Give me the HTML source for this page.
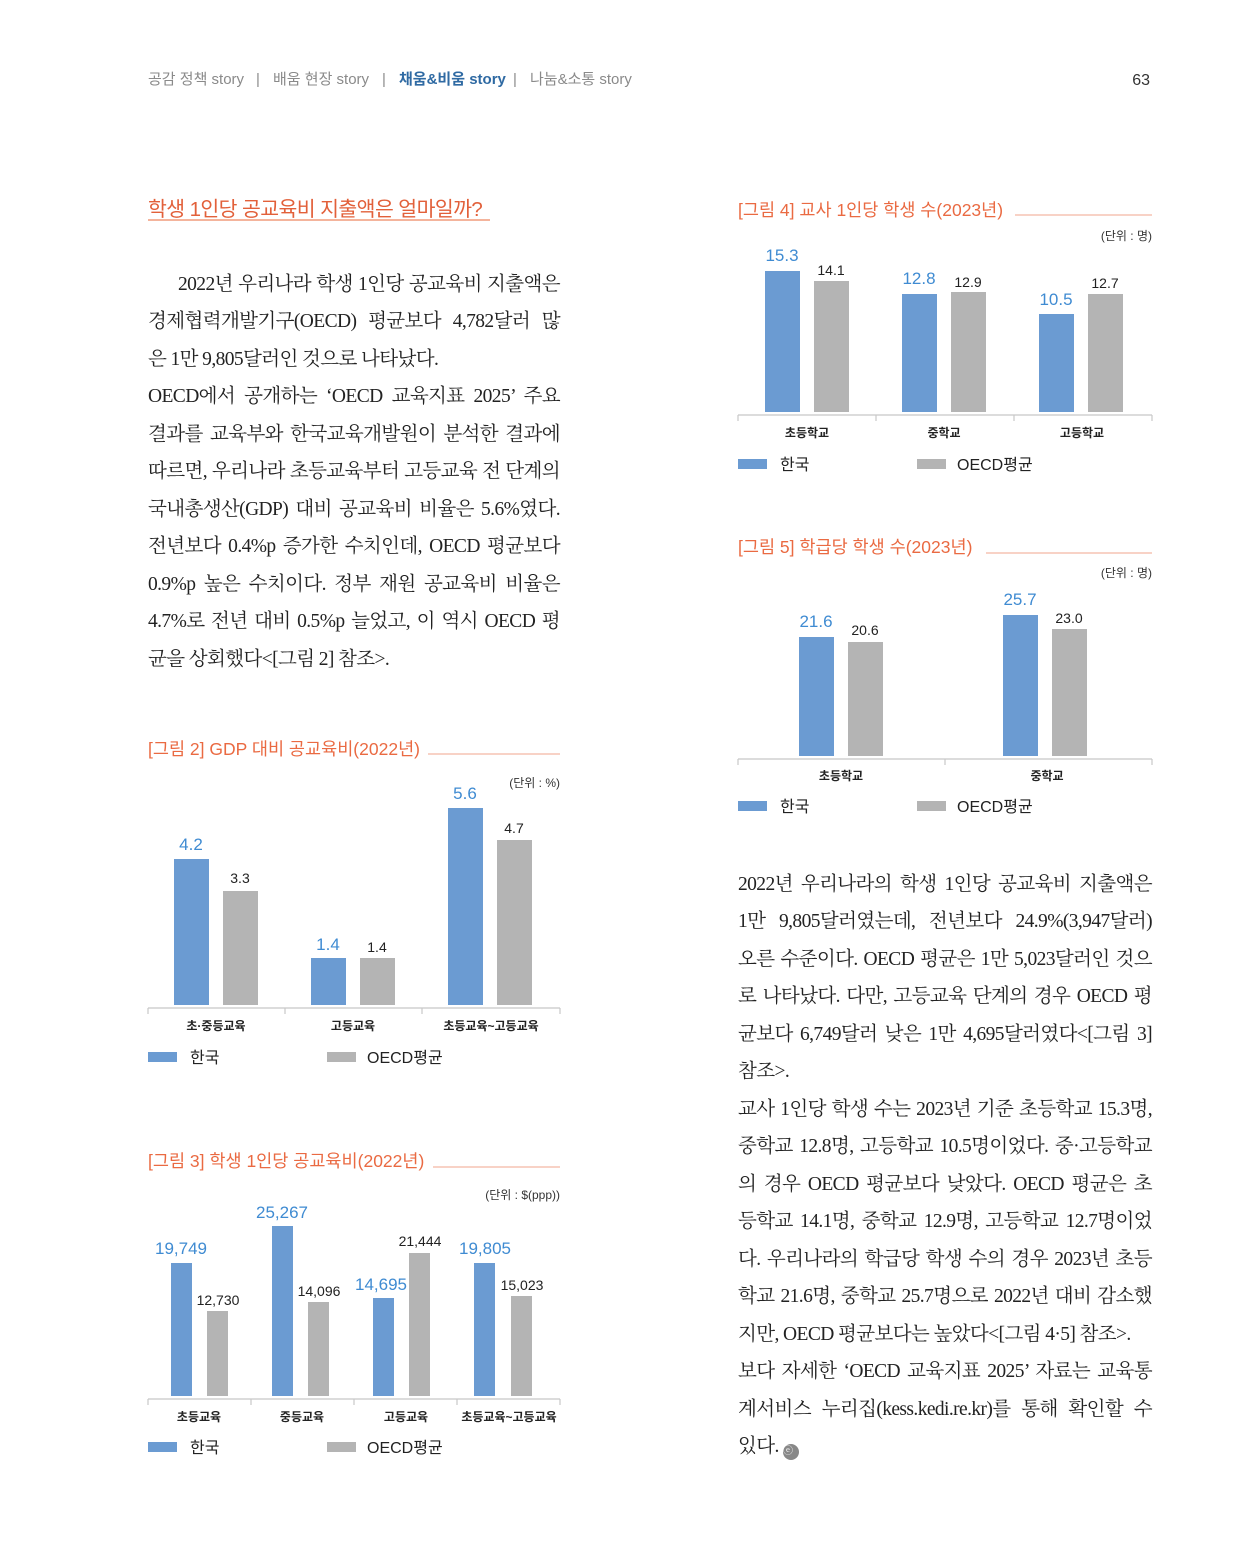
<!DOCTYPE html>
<html><head><meta charset="utf-8">
<style>
html,body{margin:0;padding:0;background:#fff;}
body{width:1240px;height:1565px;position:relative;overflow:hidden;font-family:"Liberation Sans","Noto Sans CJK KR",sans-serif;}
.l{position:absolute;height:28px;line-height:28px;font-family:"Liberation Serif","Noto Serif CJK KR","Noto Serif CJK SC",serif;font-size:19.5px;color:#222;white-space:nowrap;text-align:justify;text-align-last:justify;letter-spacing:-0.6px;}
.n{text-align:left;text-align-last:left;}
svg{position:absolute;left:0;top:0;}
</style></head><body>
<div class="l" style="left:178px;width:382px;top:271px">2022년 우리나라 학생 1인당 공교육비 지출액은</div>
<div class="l" style="left:148px;width:412px;top:308px">경제협력개발기구(OECD) 평균보다 4,782달러 많</div>
<div class="l n" style="left:148px;width:412px;top:346px">은 1만 9,805달러인 것으로 나타났다.</div>
<div class="l" style="left:148px;width:412px;top:383px">OECD에서 공개하는 ‘OECD 교육지표 2025’ 주요</div>
<div class="l" style="left:148px;width:412px;top:421px">결과를 교육부와 한국교육개발원이 분석한 결과에</div>
<div class="l" style="left:148px;width:412px;top:458px">따르면, 우리나라 초등교육부터 고등교육 전 단계의</div>
<div class="l" style="left:148px;width:412px;top:496px">국내총생산(GDP) 대비 공교육비 비율은 5.6%였다.</div>
<div class="l" style="left:148px;width:412px;top:533px">전년보다 0.4%p 증가한 수치인데, OECD 평균보다</div>
<div class="l" style="left:148px;width:412px;top:571px">0.9%p 높은 수치이다. 정부 재원 공교육비 비율은</div>
<div class="l" style="left:148px;width:412px;top:608px">4.7%로 전년 대비 0.5%p 늘었고, 이 역시 OECD 평</div>
<div class="l n" style="left:148px;width:412px;top:646px">균을 상회했다&lt;[그림 2] 참조&gt;.</div>

<div class="l" style="left:738px;width:414px;top:871px">2022년 우리나라의 학생 1인당 공교육비 지출액은</div>
<div class="l" style="left:738px;width:414px;top:908px">1만 9,805달러였는데, 전년보다 24.9%(3,947달러)</div>
<div class="l" style="left:738px;width:414px;top:946px">오른 수준이다. OECD 평균은 1만 5,023달러인 것으</div>
<div class="l" style="left:738px;width:414px;top:983px">로 나타났다. 다만, 고등교육 단계의 경우 OECD 평</div>
<div class="l" style="left:738px;width:414px;top:1021px">균보다 6,749달러 낮은 1만 4,695달러였다&lt;[그림 3]</div>
<div class="l n" style="left:738px;width:414px;top:1058px">참조&gt;.</div>
<div class="l" style="left:738px;width:414px;top:1096px">교사 1인당 학생 수는 2023년 기준 초등학교 15.3명,</div>
<div class="l" style="left:738px;width:414px;top:1133px">중학교 12.8명, 고등학교 10.5명이었다. 중·고등학교</div>
<div class="l" style="left:738px;width:414px;top:1171px">의 경우 OECD 평균보다 낮았다. OECD 평균은 초</div>
<div class="l" style="left:738px;width:414px;top:1208px">등학교 14.1명, 중학교 12.9명, 고등학교 12.7명이었</div>
<div class="l" style="left:738px;width:414px;top:1246px">다. 우리나라의 학급당 학생 수의 경우 2023년 초등</div>
<div class="l" style="left:738px;width:414px;top:1283px">학교 21.6명, 중학교 25.7명으로 2022년 대비 감소했</div>
<div class="l n" style="left:738px;width:414px;top:1321px">지만, OECD 평균보다는 높았다&lt;[그림 4·5] 참조&gt;.</div>
<div class="l" style="left:738px;width:414px;top:1358px">보다 자세한 ‘OECD 교육지표 2025’ 자료는 교육통</div>
<div class="l" style="left:738px;width:414px;top:1396px">계서비스 누리집(kess.kedi.re.kr)를 통해 확인할 수</div>
<div class="l n" style="left:738px;width:414px;top:1433px">있다. <span style="display:inline-block;width:16px;height:16px;border-radius:8px;background:#888;color:#fff;font-size:10px;line-height:16px;text-align:center;vertical-align:-2px">ⓔ</span></div>

<svg width="1240" height="1565" viewBox="0 0 1240 1565" font-family="Liberation Sans, Noto Sans CJK KR, sans-serif">
<!-- header -->
<g font-size="15" fill="#8a8a8a">
<text x="148" y="84">공감 정책 story</text>
<text x="256" y="84">|</text>
<text x="273" y="84">배움 현장 story</text>
<text x="382" y="84">|</text>
<text x="399" y="84" fill="#2f6aa3" font-weight="bold">채움&amp;비움 story</text>
<text x="513" y="84">|</text>
<text x="530" y="84">나눔&amp;소통 story</text>
</g>
<text x="1150" y="85" font-size="16" fill="#333" text-anchor="end">63</text>
<!-- title -->
<text x="148" y="216" font-size="20.5" fill="#e2603a" letter-spacing="-0.6">학생 1인당 공교육비 지출액은 얼마일까?</text>
<line x1="148" y1="220" x2="490" y2="220" stroke="#f4b49c" stroke-width="2"/>

<g font-size="17.5" fill="#ea6a42">
<text x="148" y="755">[그림  2] GDP 대비 공교육비(2022년)</text>
<text x="148" y="1167">[그림  3] 학생 1인당 공교육비(2022년)</text>
<text x="738" y="216">[그림  4] 교사 1인당 학생 수(2023년)</text>
<text x="738" y="553">[그림  5] 학급당 학생 수(2023년)</text>
</g>
<g stroke="#f0a48c" stroke-width="1">
<line x1="428" y1="754" x2="560" y2="754"/>
<line x1="433" y1="1167" x2="560" y2="1167"/>
<line x1="1015" y1="215" x2="1152" y2="215"/>
<line x1="986" y1="553" x2="1152" y2="553"/>
</g>
<g font-size="12" fill="#333" text-anchor="end">
<text x="560" y="787">(단위 : %)</text>
<text x="560" y="1199">(단위 : $(ppp))</text>
<text x="1152" y="240">(단위 : 명)</text>
<text x="1152" y="577">(단위 : 명)</text>
</g>

<!-- axes -->
<g stroke="#c8c8c8" stroke-width="1.2" fill="none">
<path d="M148 1008H560M148 1008v6M285 1008v6M422 1008v6M560 1008v6"/>
<path d="M148 1399H560M148 1399v6M251 1399v6M354 1399v6M457 1399v6M560 1399v6"/>
<path d="M738 415H1152M738 415v6M876 415v6M1014 415v6M1152 415v6"/>
<path d="M738 759H1152M738 759v6M945 759v6M1152 759v6"/>
</g>

<!-- bars -->
<g fill="#6b9bd2">
<rect x="174" y="859" width="35" height="146"/>
<rect x="311" y="958" width="35" height="47"/>
<rect x="448" y="808" width="35" height="197"/>
<rect x="171" y="1263" width="21" height="133"/>
<rect x="272" y="1226" width="21" height="170"/>
<rect x="373" y="1298" width="21" height="98"/>
<rect x="474" y="1263" width="21" height="133"/>
<rect x="765" y="271" width="35" height="141"/>
<rect x="902" y="294" width="35" height="118"/>
<rect x="1039" y="314" width="35" height="98"/>
<rect x="799" y="637" width="35" height="119"/>
<rect x="1003" y="615" width="35" height="141"/>
</g>
<g fill="#b4b4b4">
<rect x="223" y="891" width="35" height="114"/>
<rect x="360" y="958" width="35" height="47"/>
<rect x="497" y="840" width="35" height="165"/>
<rect x="207" y="1311" width="21" height="85"/>
<rect x="308" y="1302" width="21" height="94"/>
<rect x="409" y="1253" width="21" height="143"/>
<rect x="511" y="1296" width="21" height="100"/>
<rect x="814" y="281" width="35" height="131"/>
<rect x="951" y="292" width="35" height="120"/>
<rect x="1088" y="294" width="35" height="118"/>
<rect x="848" y="642" width="35" height="114"/>
<rect x="1052" y="629" width="35" height="127"/>
</g>

<!-- value labels -->
<g font-size="17" fill="#3f8bd2" text-anchor="middle">
<text x="191" y="850">4.2</text><text x="328" y="950">1.4</text><text x="465" y="799">5.6</text>
<text x="181" y="1254">19,749</text><text x="282" y="1218">25,267</text><text x="381" y="1290">14,695</text><text x="485" y="1254">19,805</text>
<text x="782" y="261">15.3</text><text x="919" y="284">12.8</text><text x="1056" y="305">10.5</text>
<text x="816" y="627">21.6</text><text x="1020" y="605">25.7</text>
</g>
<g font-size="14" fill="#222" text-anchor="middle">
<text x="240" y="883">3.3</text><text x="377" y="952">1.4</text><text x="514" y="833">4.7</text>
<text x="218" y="1305">12,730</text><text x="319" y="1296">14,096</text><text x="420" y="1246">21,444</text><text x="522" y="1290">15,023</text>
<text x="831" y="275">14.1</text><text x="968" y="287">12.9</text><text x="1105" y="288">12.7</text>
<text x="865" y="635">20.6</text><text x="1069" y="623">23.0</text>
</g>

<!-- categories -->
<g font-size="12" fill="#222" text-anchor="middle" font-weight="bold">
<text x="216" y="1030">초·중등교육</text><text x="353" y="1030">고등교육</text><text x="491" y="1030">초등교육~고등교육</text>
<text x="199" y="1421">초등교육</text><text x="302" y="1421">중등교육</text><text x="406" y="1421">고등교육</text><text x="509" y="1421">초등교육~고등교육</text>
<text x="807" y="437">초등학교</text><text x="944" y="437">중학교</text><text x="1082" y="437">고등학교</text>
<text x="841" y="780">초등학교</text><text x="1047" y="780">중학교</text>
</g>

<!-- legends -->
<g font-size="16" fill="#222">
<rect x="148" y="1052" width="29" height="10" fill="#6b9bd2"/><text x="190" y="1063">한국</text>
<rect x="327" y="1052" width="29" height="10" fill="#b4b4b4"/><text x="367" y="1063">OECD평균</text>
<rect x="148" y="1442" width="29" height="10" fill="#6b9bd2"/><text x="190" y="1453">한국</text>
<rect x="327" y="1442" width="29" height="10" fill="#b4b4b4"/><text x="367" y="1453">OECD평균</text>
<rect x="738" y="459" width="29" height="10" fill="#6b9bd2"/><text x="780" y="470">한국</text>
<rect x="917" y="459" width="29" height="10" fill="#b4b4b4"/><text x="957" y="470">OECD평균</text>
<rect x="738" y="801" width="29" height="10" fill="#6b9bd2"/><text x="780" y="812">한국</text>
<rect x="917" y="801" width="29" height="10" fill="#b4b4b4"/><text x="957" y="812">OECD평균</text>
</g>
</svg>
</body></html>
